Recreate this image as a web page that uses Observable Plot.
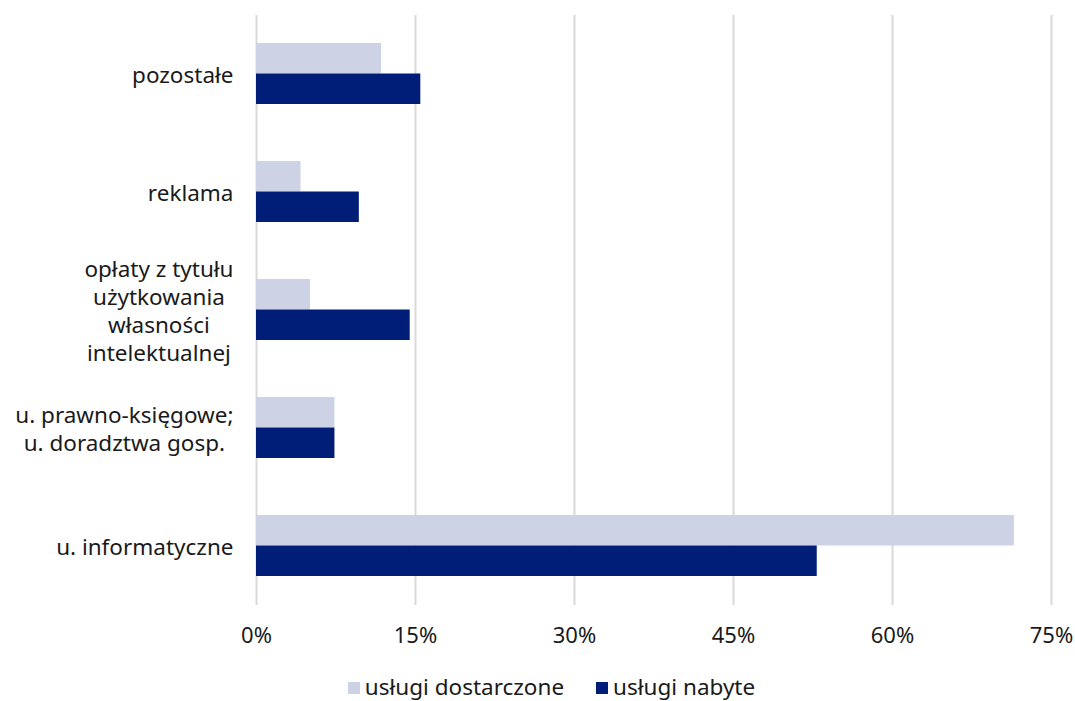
<!DOCTYPE html>
<html>
<head>
<meta charset="utf-8">
<script src="https://cdn.jsdelivr.net/npm/d3@7"></script>
<script src="https://cdn.jsdelivr.net/npm/@observablehq/plot@0.6"></script>
<style>
  html, body { margin: 0; padding: 0; background: #fff; }
  body { width: 1075px; height: 701px; font-family: "Noto Sans", sans-serif; color: #1a1a1a; }
  #chart svg g[aria-label="y-axis tick label"] text { font-size: 22.5px; }
  #chart svg g[aria-label="x-axis tick label"] text { font-size: 22px; }
  #legend { display: flex; justify-content: center; align-items: center; gap: 32px; font-size: 22.5px; margin-top: 18px; padding-left: 28px; line-height: 1.2; }
  .item { display: flex; align-items: center; }
  .sw { width: 12px; height: 12px; margin-right: 5px; margin-top: 3px; }
</style>
</head>
<body>
<div id="chart"></div>
<div id="legend"></div>
<script>
const categories = ["pozostałe", "reklama", "opłaty z tytułu\nużytkowania\nwłasności\nintelektualnej", "u. prawno-księgowe;\nu. doradztwa gosp.", "u. informatyczne"];
const dostarczone = [11.8, 4.2, 5.1, 7.4, 71.5];
const nabyte = [15.5, 9.7, 14.5, 7.4, 52.9];
const seriesNames = ["usługi dostarczone", "usługi nabyte"];
const seriesColors = ["#cdd3e5", "#001d77"];
const xTicks = [0, 15, 30, 45, 60, 75];

const rowsA = categories.map((c, i) => ({category: c, value: dostarczone[i]}));
const rowsB = categories.map((c, i) => ({category: c, value: nabyte[i]}));

const plot = Plot.plot({
  width: 1075,
  height: 655,
  marginLeft: 256,
  marginRight: 24,
  marginTop: 15,
  marginBottom: 50,
  style: {fontFamily: "'Noto Sans', sans-serif", fontSize: "22px", color: "#1a1a1a", background: "#fff"},
  x: {domain: [0, 75], ticks: xTicks, tickFormat: d => d + "%", label: null},
  y: {domain: categories, paddingInner: 0.483, paddingOuter: 0.2415, label: null},
  marks: [
    Plot.gridX(xTicks, {stroke: "#d9d9d9", strokeOpacity: 1, strokeWidth: 2}),
    Plot.barX(rowsA, {x: "value", y: "category", fill: seriesColors[0], insetBottom: 30.5}),
    Plot.barX(rowsB, {x: "value", y: "category", fill: seriesColors[1], insetTop: 30.5}),
    Plot.axisX(xTicks, {tickSize: 0, tickPadding: 22, tickFormat: d => d + "%", label: null}),
    Plot.axisY({tickSize: 0, tickPadding: 23, label: null, lineHeight: 1.245})
  ]
});
document.getElementById("chart").appendChild(plot);

// center multi-line y labels within their block (right-aligned block)
d3.select(plot).selectAll("g[aria-label='y-axis tick label'] text").each(function() {
  const tspans = d3.select(this).selectAll("tspan");
  if (tspans.size() > 1) {
    let maxW = 0;
    tspans.each(function() { maxW = Math.max(maxW, this.getComputedTextLength()); });
    d3.select(this).attr("text-anchor", "middle");
    tspans.attr("x", -maxW / 2);
  }
});

const legend = d3.select("#legend");
seriesNames.forEach((n, i) => {
  const it = legend.append("div").attr("class", "item");
  it.append("div").attr("class", "sw").style("background", seriesColors[i]);
  it.append("span").text(n);
});
</script>
</body>
</html>
